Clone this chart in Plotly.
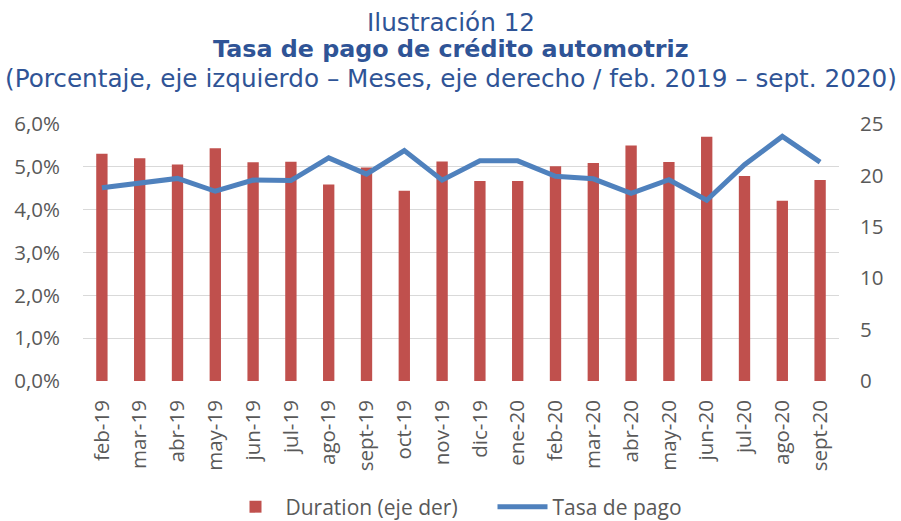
import plotly.graph_objects as go

meses = ["feb-19", "mar-19", "abr-19", "may-19", "jun-19", "jul-19", "ago-19", "sept-19",
         "oct-19", "nov-19", "dic-19", "ene-20", "feb-20", "mar-20", "abr-20", "may-20",
         "jun-20", "jul-20", "ago-20", "sept-20"]
duration = [22.1, 21.66, 21.07, 22.63, 21.27, 21.33, 19.12, 20.78, 18.51, 21.36,
            19.45, 19.45, 20.88, 21.2, 22.92, 21.3, 23.77, 19.94, 17.53, 19.55]
tasa_pago = [4.51, 4.61, 4.73, 4.43, 4.69, 4.68, 5.21, 4.83, 5.38, 4.69,
             5.14, 5.14, 4.78, 4.72, 4.38, 4.70, 4.22, 5.05, 5.71, 5.11]

left_ticks = [0, 1, 2, 3, 4, 5, 6]
left_labels = ["0,0%", "1,0%", "2,0%", "3,0%", "4,0%", "5,0%", "6,0%"]
right_ticks = [0, 5, 10, 15, 20, 25]

W, H = 901, 521
ML, MR, MT, MB = 83, 62, 124, 140

TICK_FONT = dict(family="Open Sans", size=20.5, color="#595959")
TITLE_COLOR = "#2F5496"
TITLE_FONT = dict(family="DejaVu Sans", size=24.7, color=TITLE_COLOR)
TITLE_FONT_B = dict(family="DejaVu Sans", size=23.8, color=TITLE_COLOR)

fig = go.Figure()
fig.add_trace(go.Bar(
    x=meses, y=duration, name="Duration (eje der)",
    marker=dict(color="#C0504D", line=dict(width=0)),
    width=0.3, yaxis="y",
))
fig.add_trace(go.Scatter(
    x=meses, y=tasa_pago, name="Tasa de pago", mode="lines",
    line=dict(color="#4F81BD", width=5), yaxis="y2",
))

def ycont(px_from_top):
    return 1 - px_from_top / H

def ypaper(px_from_top):
    return (H - MB - px_from_top) / (H - MT - MB)

xc = (W / 2 - ML) / (W - ML - MR)

fig.update_layout(
    width=W, height=H,
    margin=dict(l=ML, r=MR, t=MT, b=MB, autoexpand=False),
    paper_bgcolor="white", plot_bgcolor="white",
    separators=",.",
    showlegend=True,
    legend=dict(orientation="h", x=0.5 + 42 / W, xref="container", xanchor="center",
                y=ycont(507), yref="container", yanchor="middle",
                font=dict(family="Open Sans", size=21, color="#595959"),
                traceorder="normal", itemwidth=50, entrywidth=202,
                entrywidthmode="pixels"),
    xaxis=dict(tickangle=-90, tickfont=TICK_FONT, showgrid=False, showline=False,
               ticks="", ticklen=0, ticklabelstandoff=14, automargin=False),
    yaxis=dict(side="right", range=[0, 25], tickvals=right_ticks, showgrid=False,
               zeroline=False, tickfont=TICK_FONT, ticks="", ticklabelstandoff=20,
               automargin=False),
    yaxis2=dict(side="left", overlaying="y", range=[0, 6], tickvals=left_ticks,
                ticktext=left_labels, showgrid=True, gridcolor="#D9D9D9",
                gridwidth=1.3, zeroline=False, tickfont=TICK_FONT, ticks="",
                ticklabelstandoff=22, automargin=False),
    annotations=[
        dict(text="Ilustración 12", x=xc, xref="paper", xanchor="center", y=ypaper(22),
             yref="paper", yanchor="middle", showarrow=False, font=TITLE_FONT),
        dict(text="<b>Tasa de pago de crédito automotriz</b>", x=xc, xref="paper",
             xanchor="center", y=ypaper(49), yref="paper", yanchor="middle",
             showarrow=False, font=TITLE_FONT_B),
        dict(text="(Porcentaje, eje izquierdo – Meses, eje derecho / feb. 2019 – sept. 2020)",
             x=xc, xref="paper", xanchor="center", y=ypaper(79), yref="paper",
             yanchor="middle", showarrow=False, font=TITLE_FONT),
    ],
)

fig.write_html("out.html", config={"displayModeBar": False},
               post_script="document.body.style.margin='0';")
